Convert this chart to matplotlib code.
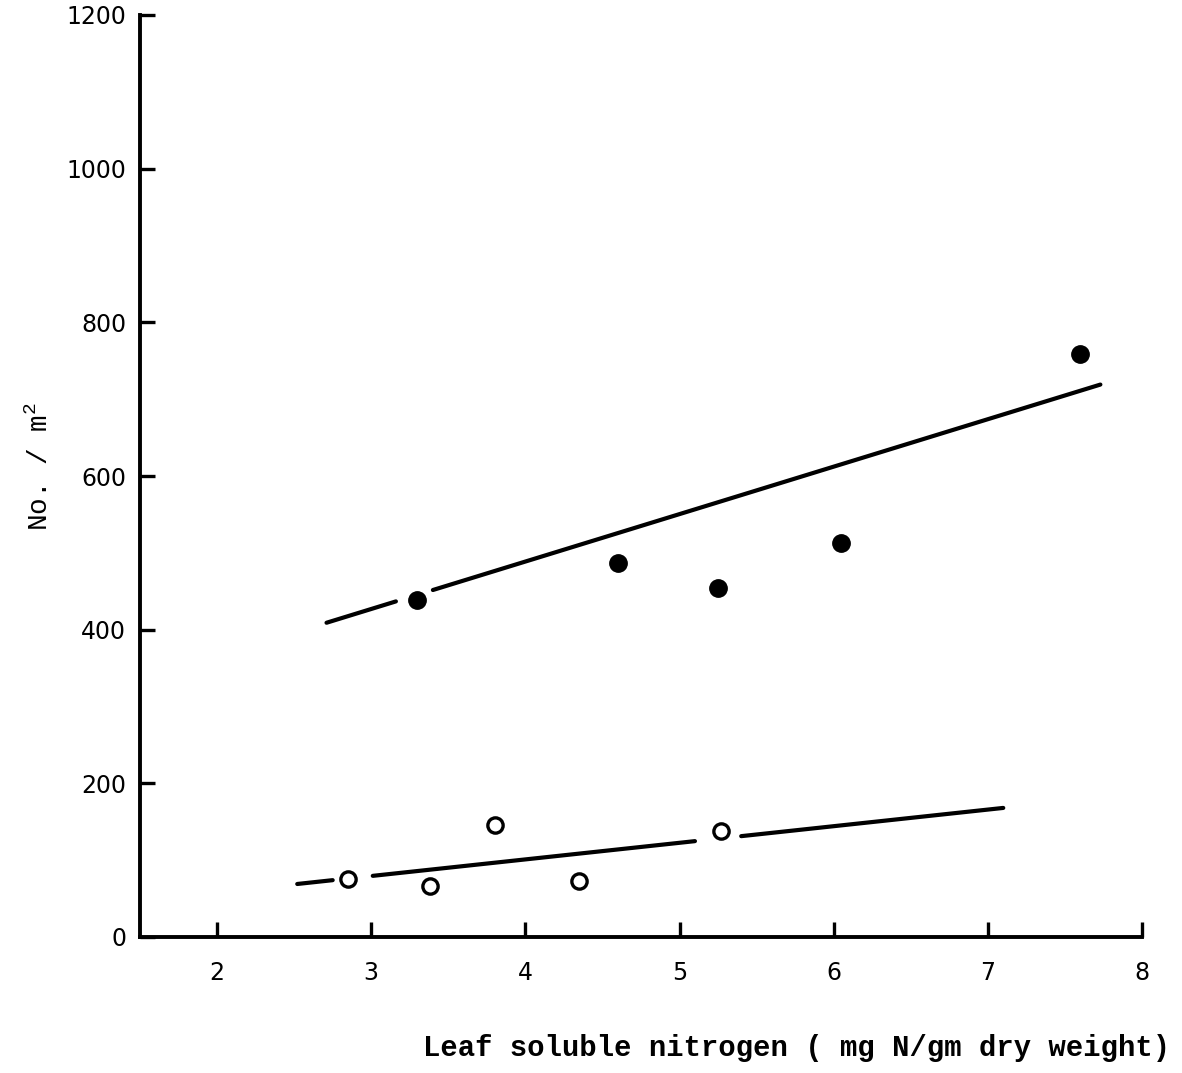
import matplotlib
matplotlib.use("Agg")
import matplotlib.pyplot as plt
import numpy as np

# Leaf soluble nitrogen (mg N / gm dry weight) vs numbers per m^2
filled_x = [3.30, 4.60, 5.25, 6.05, 7.60]
filled_y = [439, 487, 454, 513, 759]

open_x = [2.85, 3.38, 3.80, 4.35, 5.27]
open_y = [75, 66, 146, 73, 138]

# fitted lines: end points and the stretches left undrawn around points
upper_line_x = [2.71, 7.73]
upper_line_y = [409, 719]
upper_breaks = [(3.16, 3.40)]

lower_line_x = [2.52, 7.10]
lower_line_y = [69, 168]
lower_breaks = [(2.75, 3.01), (5.10, 5.40)]

x_ticks = [2, 3, 4, 5, 6, 7, 8]
y_ticks = [0, 200, 400, 600, 800, 1000, 1200]

x_label = "Leaf soluble nitrogen ( mg N/gm dry weight)"
y_label = "No. / m$^{2}$"

plt.rcParams["mathtext.default"] = "regular"

fig = plt.figure(figsize=(11.82, 10.73), dpi=100)
ax = fig.add_axes([140 / 1182, 1 - 937 / 1073, 1002 / 1182, 922 / 1073])


def draw_broken_line(xs, ys, breaks):
    x0, x1 = xs
    y0, y1 = ys
    slope = (y1 - y0) / (x1 - x0)
    edges = [x0]
    for a, b in breaks:
        edges += [a, b]
    edges.append(x1)
    for i in range(0, len(edges), 2):
        sx = np.array([edges[i], edges[i + 1]])
        ax.plot(sx, y0 + slope * (sx - x0), color="black", lw=3.0,
                solid_capstyle="round", clip_on=False)


draw_broken_line(upper_line_x, upper_line_y, upper_breaks)
draw_broken_line(lower_line_x, lower_line_y, lower_breaks)

ax.plot(filled_x, filled_y, "o", color="black", ms=12.5, clip_on=False)
ax.plot(open_x, open_y, "o", mfc="white", mec="black", ms=11, mew=2.4,
        clip_on=False)

ax.set_xlim(1.5, 8)
ax.set_ylim(0, 1200)
ax.set_xticks(x_ticks)
ax.set_yticks(y_ticks)

for side in ("top", "right"):
    ax.spines[side].set_visible(False)
for side in ("left", "bottom"):
    ax.spines[side].set_linewidth(2.8)

ax.tick_params(axis="both", direction="in", length=11, width=2.4,
               labelsize=17, colors="black")
ax.tick_params(axis="x", pad=17)
ax.tick_params(axis="y", pad=10)
for lab in ax.get_xticklabels() + ax.get_yticklabels():
    lab.set_fontfamily("DejaVu Sans")

fig.text(1170 / 1182, 1 - 1048 / 1073, x_label, ha="right", va="center",
         fontsize=20.8, family="Liberation Mono", fontweight="bold")
fig.text(40 / 1182, 1 - 466 / 1073, y_label, ha="center", va="center",
         rotation=90, fontsize=20, family="Liberation Mono")

fig.savefig("out.png", dpi=100, facecolor="white")
